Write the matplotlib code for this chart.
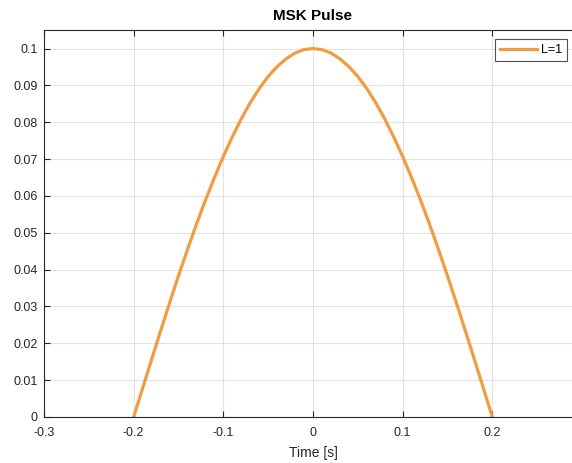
import matplotlib.pyplot as plt

# ---------------------------------
# Data
# ---------------------------------
t = [-0.20, -0.19, -0.18, -0.17, -0.16, -0.15, -0.14, -0.13, -0.12, -0.11,
     -0.10, -0.09, -0.08, -0.07, -0.06, -0.05, -0.04, -0.03, -0.02, -0.01,
     0.00,
     0.01, 0.02, 0.03, 0.04, 0.05, 0.06, 0.07, 0.08, 0.09, 0.10,
     0.11, 0.12, 0.13, 0.14, 0.15, 0.16, 0.17, 0.18, 0.19, 0.20]
half = [0.0, 0.0078, 0.0156, 0.0233, 0.0309, 0.0383, 0.0454, 0.0523, 0.0588, 0.0649,
        0.0707, 0.0760, 0.0809, 0.0853, 0.0891, 0.0924, 0.0951, 0.0972, 0.0988, 0.0997]
pulse = half + [0.1] + half[::-1]

x_ticks = [-0.3, -0.2, -0.1, 0, 0.1, 0.2]
x_labels = ["-0.3", "-0.2", "-0.1", "0", "0.1", "0.2"]
y_ticks = [0, 0.01, 0.02, 0.03, 0.04, 0.05, 0.06, 0.07, 0.08, 0.09, 0.1]
y_labels = ["0", "0.01", "0.02", "0.03", "0.04", "0.05", "0.06", "0.07", "0.08", "0.09", "0.1"]

# ---------------------------------
# Plot
# ---------------------------------
plt.rcParams['font.family'] = ['Liberation Sans', 'DejaVu Sans']

fig = plt.figure(figsize=(5.72, 4.63), dpi=100)
ax = fig.add_axes([0.0769, 0.0994, 0.9406, 0.8356])

ax.plot(t, pulse, color="#F09C40", linewidth=2.3, label="L=1")

ax.set_xlim(-0.3, 0.3)
ax.set_ylim(0, 0.105)
ax.set_xticks(x_ticks)
ax.set_xticklabels(x_labels)
ax.set_yticks(y_ticks)
ax.set_yticklabels(y_labels)
ax.grid(True, color="#E3E3E3", linewidth=0.8)
ax.set_axisbelow(True)

ax.tick_params(labelsize=9, colors="#262626", direction="in", length=4, width=0.8,
               top=True, right=True)
ax.tick_params(axis="x", pad=7.5)
ax.tick_params(axis="y", pad=4.5)
for sp in ax.spines.values():
    sp.set_color("#262626")
    sp.set_linewidth(0.8)

ax.set_title("MSK Pulse", fontsize=11, fontweight="bold", pad=7)
ax.set_xlabel("Time [s]", fontsize=10, color="#262626", labelpad=5)

leg = ax.legend(loc="upper left", bbox_to_anchor=(0.838, 0.976), fontsize=9,
                frameon=True, fancybox=False, handlelength=3.0, borderpad=0.4,
                handletextpad=0.3, borderaxespad=0)
leg.get_frame().set_edgecolor("#262626")
leg.get_frame().set_linewidth(0.8)

plt.savefig("out.png", dpi=100)
